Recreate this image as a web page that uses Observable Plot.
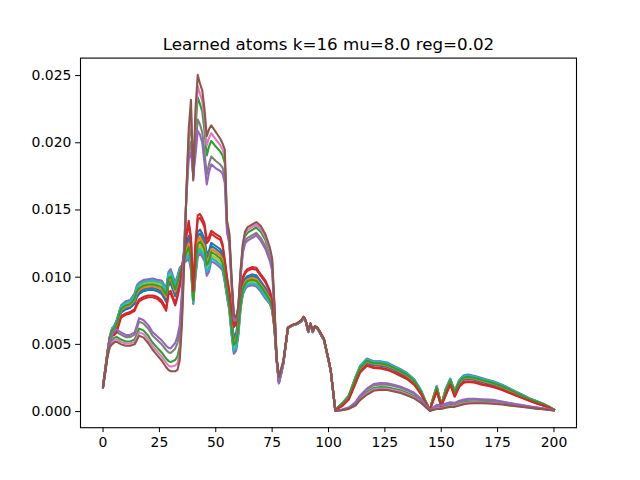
<!DOCTYPE html>
<html>
<head>
<meta charset="utf-8">
<script src="https://cdn.jsdelivr.net/npm/d3@7"></script>
<script src="https://cdn.jsdelivr.net/npm/@observablehq/plot@0.6"></script>
<style>
  html, body { margin: 0; padding: 0; background: #fff; }
</style>
</head>
<body>
<div id="chart"></div>
<script>
// Title and tick labels
const TITLE = "Learned atoms k=16 mu=8.0 reg=0.02";
const X_TICKS = [0, 25, 50, 75, 100, 125, 150, 175, 200];
const Y_TICKS = [0, 0.005, 0.010, 0.015, 0.020, 0.025];

const X = [0,2,3,4,5,6,8,10,12,14,15,16,18,20,22,24,26,28,29,30,32,33,34,35,36,37,38,39,40,41,42,43,44,45,46,47,48,50,52,53,54,55,56,57,58,59,60,61,62,63,64,66,68,70,72,74,75,76,77,78,79,80,82,84,86,88,89,90,91,92,93,94,95,96,98,100,101,103,106,109,112,114,117,120,123,126,129,132,135,138,141,143,145,146,148,150,152,154,156,158,160,162,165,168,171,174,177,180,183,186,189,192,195,198,200];

// Atom values, in units of 1e-5
const UNIT = 1e-5;
const atom0 = [187,438,542,590,598,626,736,760,770,802,850,876,896,904,906,896,876,818,938,952,858,914,986,1072,1164,1246,1308,1200,860,1150,1336,1354,1324,1288,1172,1196,1255,1232,1208,1170,1062,940,840,678,562,582,686,850,948,988,1008,1021,1014,968,921,860,798,644,392,228,292,366,623,643,653,676,703,668,596,653,596,633,623,596,536,386,303,12,48,102,230,310,362,345,342,332,310,285,258,216,142,71,10,68,166,44,140,218,128,205,237,242,235,220,208,195,176,154,132,110,88,69,51,31,13];
const atom1 = [188,442,548,600,612,644,754,780,790,828,880,904,924,931,934,924,909,852,972,988,892,946,1014,1078,1146,1204,1252,1150,840,1100,1274,1296,1266,1232,1118,1144,1210,1188,1162,1130,1028,910,810,642,518,538,644,820,922,962,982,994,986,942,894,840,782,636,388,222,288,364,622,642,652,674,702,667,594,652,594,632,622,594,534,384,302,13,52,108,240,320,373,355,353,343,320,295,267,224,148,74,10,72,174,46,150,227,137,215,248,253,245,230,217,203,184,161,138,115,92,73,54,32,14];
const atom2 = [181,418,496,528,549,556,536,522,522,536,574,617,602,564,512,476,440,394,376,368,384,410,484,750,1160,1630,2012,2164,1736,2110,2339,2288,2234,2090,1906,1972,2014,1972,1934,1905,1850,1384,1298,980,704,692,768,1030,1222,1304,1330,1350,1370,1336,1276,1180,1104,780,392,240,308,374,624,644,654,676,704,669,596,654,596,634,624,596,536,386,304,7,12,24,55,99,143,175,182,180,170,157,138,115,77,41,7,16,32,30,41,49,47,59,69,74,75,74,72,68,61,54,47,40,33,26,20,14,10];
const atom3 = [186,432,533,575,577,599,709,730,740,763,805,834,854,864,864,854,827,767,887,898,807,866,944,1063,1191,1309,1392,1275,890,1225,1429,1441,1411,1372,1253,1274,1323,1298,1277,1230,1113,985,885,732,628,648,749,895,987,1027,1047,1062,1056,1007,962,890,822,656,398,237,298,369,625,645,655,679,705,670,599,655,599,635,625,599,539,389,305,11,42,93,215,295,346,330,326,316,295,270,245,204,133,67,10,62,154,41,125,205,115,190,221,226,220,205,195,182,164,144,123,103,82,64,47,29,12];
const atom4 = [190,450,560,620,640,680,790,820,830,880,940,960,980,985,990,980,975,920,1040,1060,960,1010,1070,1090,1110,1120,1140,1050,800,1000,1150,1180,1150,1120,1010,1040,1120,1100,1070,1050,960,850,750,570,430,450,560,760,870,910,930,940,930,890,840,800,750,620,380,210,280,360,620,640,650,670,700,665,590,650,590,630,620,590,530,380,300,15,60,120,260,340,395,375,375,365,340,315,285,240,160,80,10,80,190,50,170,245,155,235,270,275,265,250,235,220,200,175,150,125,100,80,60,35,15];
const atom5 = [190,448,557,615,633,671,781,810,820,867,925,946,966,972,976,966,959,903,1023,1042,943,994,1056,1087,1119,1141,1168,1075,810,1025,1181,1209,1179,1148,1037,1066,1143,1122,1093,1070,977,865,765,588,452,472,581,775,883,923,943,954,944,903,854,810,758,624,382,213,282,361,621,641,651,671,701,666,591,651,591,631,621,591,531,381,301,15,58,117,255,335,390,370,370,360,335,310,281,236,157,79,10,78,186,49,165,241,151,230,265,270,260,245,231,216,196,172,147,123,98,78,59,34,15];
const atom6 = [180,414,488,514,532,538,518,506,506,518,552,591,576,537,486,448,410,362,343,334,342,360,432,700,1130,1640,2056,2242,1728,2180,2422,2364,2312,2170,1978,2036,2072,2026,1982,1950,1900,1402,1314,990,712,696,774,1040,1236,1322,1350,1370,1390,1358,1298,1200,1122,790,396,250,314,377,624,644,654,678,704,669,598,654,598,634,624,598,538,388,304,6,11,22,50,92,134,165,172,170,160,147,129,106,71,38,6,13,26,25,34,42,41,52,62,67,69,68,66,63,57,50,43,37,30,24,19,13,9];
const atom7 = [184,426,512,556,583,592,572,554,554,572,618,669,654,618,564,532,500,458,442,436,468,510,588,850,1220,1610,1924,2008,1752,1970,2173,2136,2078,1930,1762,1844,1898,1864,1838,1815,1750,1348,1266,960,688,684,756,1010,1194,1268,1290,1310,1330,1292,1232,1140,1068,760,384,220,296,368,623,643,653,673,703,668,593,653,593,633,623,593,533,383,303,9,14,28,65,113,161,195,202,200,190,176,156,132,89,47,9,22,44,40,54,63,59,73,83,88,88,86,84,79,70,61,54,45,38,30,23,17,11];
const atom8 = [189,446,554,610,626,662,772,800,810,854,910,932,952,958,962,952,942,886,1006,1024,926,978,1042,1084,1128,1162,1196,1100,820,1050,1212,1238,1208,1176,1064,1092,1165,1144,1116,1090,994,880,780,606,474,494,602,790,896,936,956,967,958,916,867,820,766,628,384,216,284,362,621,641,651,672,701,666,592,651,592,631,621,592,532,382,301,14,56,114,250,330,384,365,364,354,330,305,276,232,154,77,10,76,182,48,160,236,146,225,259,264,255,240,226,212,192,168,144,120,96,76,57,34,14];
const atom9 = [190,448,557,615,633,671,781,810,820,867,925,946,966,972,976,966,959,903,1023,1042,943,994,1056,1087,1119,1141,1168,1075,810,1025,1181,1209,1179,1148,1037,1066,1143,1122,1093,1070,977,865,765,588,452,472,581,775,883,923,943,954,944,903,854,810,758,624,382,213,282,361,621,641,651,671,701,666,591,651,591,631,621,591,531,381,301,15,58,117,255,335,390,370,370,360,335,310,281,236,157,79,10,78,186,49,165,241,151,230,265,270,260,245,231,216,196,172,147,123,98,78,59,34,15];
const atom10 = [188,440,545,595,605,635,745,770,780,815,865,890,910,918,920,910,893,835,955,970,875,930,1000,1075,1155,1225,1280,1175,850,1125,1305,1325,1295,1260,1145,1170,1233,1210,1185,1150,1045,925,825,660,540,560,665,835,935,975,995,1008,1000,955,908,850,790,640,390,225,290,365,623,643,653,675,703,668,595,653,595,633,623,595,535,385,303,13,50,105,235,315,368,350,348,338,315,290,263,220,145,73,10,70,170,45,145,223,133,210,243,248,240,225,213,199,180,158,135,113,90,71,53,32,14];
const atom11 = [188,442,548,600,612,644,754,780,790,828,880,904,924,931,934,924,909,852,972,988,892,946,1014,1078,1146,1204,1252,1150,840,1100,1274,1296,1266,1232,1118,1144,1210,1188,1162,1130,1028,910,810,642,518,538,644,820,922,962,982,994,986,942,894,840,782,636,388,222,288,364,622,642,652,674,702,667,594,652,594,632,622,594,534,384,302,13,52,108,240,320,373,355,353,343,320,295,267,224,148,74,10,72,174,46,150,227,137,215,248,253,245,230,217,203,184,161,138,115,92,73,54,32,14];
const atom12 = [188,444,551,605,619,653,763,790,800,841,895,918,938,945,948,938,926,869,989,1006,909,962,1028,1081,1137,1183,1224,1125,830,1075,1243,1267,1237,1204,1091,1118,1188,1166,1139,1110,1011,895,795,624,496,516,623,805,909,949,969,981,972,929,881,830,774,632,386,219,286,363,622,642,652,673,702,667,593,652,593,632,622,593,533,383,302,14,54,111,245,325,379,360,359,349,325,300,272,228,151,76,10,74,178,47,155,232,142,220,254,259,250,235,222,207,188,165,141,118,94,75,56,33,14];
const atom13 = [185,430,530,570,570,590,700,720,730,750,790,820,840,850,850,840,810,750,870,880,790,850,930,1060,1200,1330,1420,1300,900,1250,1460,1470,1440,1400,1280,1300,1345,1320,1300,1250,1130,1000,900,750,650,670,770,910,1000,1040,1060,1075,1070,1020,975,900,830,660,400,240,300,370,625,645,655,680,705,670,600,655,600,635,625,600,540,390,305,10,40,90,210,290,340,325,320,310,290,265,240,200,130,65,10,60,150,40,120,200,110,185,215,220,215,200,190,178,160,140,120,100,80,62,45,28,12];
const atom14 = [185,430,520,570,600,610,590,570,570,590,640,695,680,645,590,560,530,490,475,470,510,560,640,900,1250,1600,1880,1930,1760,1900,2090,2060,2000,1850,1690,1780,1840,1810,1790,1770,1700,1330,1250,950,680,680,750,1000,1180,1250,1270,1290,1310,1270,1210,1120,1050,750,380,210,290,365,622,642,652,672,702,667,592,652,592,632,622,592,532,382,302,10,15,30,70,120,170,205,212,210,200,185,165,140,95,50,10,25,50,45,60,70,65,80,90,95,95,92,90,85,75,65,57,48,40,32,25,18,12];
const atom15 = [178,410,480,500,515,520,500,490,490,500,530,565,550,510,460,420,380,330,310,300,300,310,380,650,1100,1650,2100,2320,1720,2250,2505,2440,2390,2250,2050,2100,2130,2080,2030,1995,1950,1420,1330,1000,720,700,780,1050,1250,1340,1370,1390,1410,1380,1320,1220,1140,800,400,260,320,380,625,645,655,680,705,670,600,655,600,635,625,600,540,390,305,5,10,20,45,85,125,155,162,160,150,138,120,98,65,35,5,10,20,20,28,35,35,45,55,60,62,62,60,57,52,46,40,34,28,22,17,12,8];

const ATOMS = [atom0, atom1, atom2, atom3, atom4, atom5, atom6, atom7, atom8, atom9, atom10, atom11, atom12, atom13, atom14, atom15];
const COLORS = ["#1f77b4","#ff7f0e","#2ca02c","#d62728","#9467bd","#8c564b","#e377c2","#7f7f7f","#bcbd22","#17becf"];

const lineMarks = ATOMS.map((arr, i) =>
  Plot.line(arr.map((v, j) => ({x: X[j], y: v * UNIT})), {
    x: "x", y: "y",
    stroke: COLORS[i % COLORS.length],
    strokeWidth: 2.08,
    strokeLinejoin: "round",
    strokeLinecap: "square"
  })
);

const chart = Plot.plot({
  width: 640,
  height: 480,
  marginLeft: 80,
  marginRight: 64,
  marginTop: 57.6,
  marginBottom: 52.8,
  style: {
    fontFamily: "'DejaVu Sans', sans-serif",
    fontSize: "13.9px",
    color: "black",
    background: "white",
    overflow: "visible"
  },
  x: {domain: [-10, 210], ticks: X_TICKS, tickSize: 4.9, tickPadding: 4.2, label: null, tickFormat: d3.format("d")},
  y: {domain: [-0.0012, 0.0263], ticks: Y_TICKS, tickSize: 4.9, tickPadding: 4.2, label: null, tickFormat: d3.format(".3f")},
  marks: [
    ...lineMarks,
    Plot.frame({stroke: "black", strokeWidth: 1.1}),
    Plot.text([TITLE], {
      frameAnchor: "top",
      dy: -8,
      lineAnchor: "bottom",
      fontSize: 16.7,
      fill: "black"
    })
  ]
});

document.getElementById("chart").appendChild(chart);
</script>
</body>
</html>
